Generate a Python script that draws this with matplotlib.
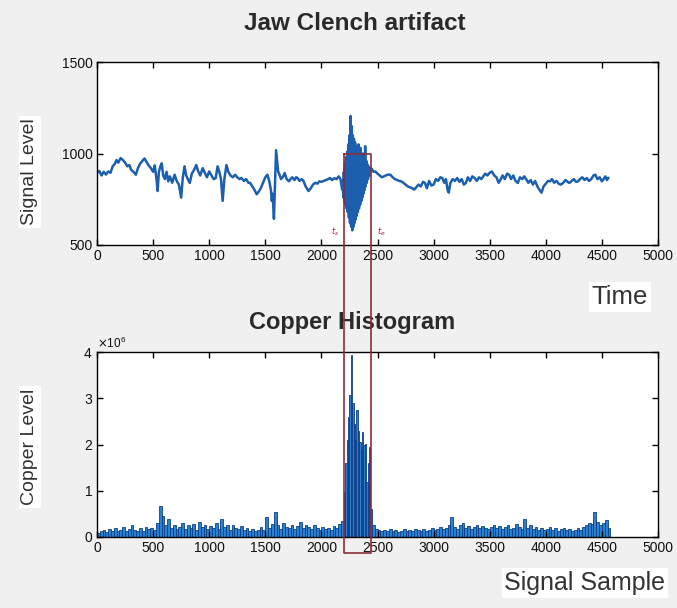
import numpy as np
import matplotlib
matplotlib.use("Agg")
import matplotlib.pyplot as plt
from matplotlib.lines import Line2D
from matplotlib.ticker import ScalarFormatter

# ---------------- data ----------------
sig_t = [0, 20, 40, 60, 80, 100, 120, 140, 160, 173, 190, 210, 230, 250, 270, 288, 305, 325, 346, 365,
         385, 405, 423, 440, 460, 480, 500, 515, 530, 540, 552, 565, 577, 590, 605, 620, 635, 650, 670, 692,
         710, 730, 750, 765, 780, 795, 810, 827, 845, 865, 885, 900, 920, 942, 960, 980, 1000, 1020, 1040, 1058,
         1075, 1090, 1105, 1120, 1135, 1154, 1170, 1190, 1210, 1231, 1250, 1270, 1288, 1310, 1330, 1350, 1365,
         1385, 1405, 1423, 1440, 1461, 1480, 1500, 1519, 1535, 1550, 1558, 1565, 1572, 1577, 1583, 1590, 1596,
         1605, 1615, 1627, 1640, 1655, 1673, 1690, 1711, 1725, 1740, 1760, 1775, 1788, 1805, 1825, 1840, 1860,
         1885, 1905, 1925, 1945, 1965, 1981, 2000, 2020, 2040, 2060, 2077, 2095, 2115, 2135, 2154, 2170, 2185,
         2190, 2195, 2200, 2205, 2210, 2215, 2220, 2225, 2230, 2235, 2240, 2245, 2250, 2255, 2260, 2265, 2270,
         2275, 2280, 2285, 2290, 2295, 2300, 2305, 2310, 2315, 2320, 2325, 2330, 2335, 2340, 2345, 2350, 2355,
         2360, 2365, 2370, 2375, 2380, 2385, 2390, 2395, 2400, 2405, 2410, 2415, 2420, 2430, 2440,
         2450, 2465, 2480, 2500, 2520, 2540, 2557, 2575, 2595, 2615, 2635, 2655, 2675, 2695, 2711, 2730, 2750,
         2770, 2790, 2810, 2827, 2845, 2865, 2885, 2905, 2923, 2940, 2960, 2980, 3000, 3020, 3040, 3060, 3077,
         3095, 3110, 3125, 3135, 3150, 3170, 3190, 3211, 3230, 3250, 3270, 3288, 3305, 3325, 3345, 3365, 3385,
         3405, 3425, 3442, 3460, 3480, 3500, 3519, 3540, 3560, 3580, 3596, 3615, 3635, 3655, 3673, 3690, 3710,
         3730, 3750, 3770, 3790, 3808, 3825, 3845, 3865, 3885, 3905, 3925, 3945, 3962, 3980, 4000, 4020, 4038,
         4055, 4075, 4095, 4115, 4135, 4155, 4175, 4195, 4211, 4230, 4250, 4270, 4288, 4305, 4325, 4345, 4365,
         4385, 4405, 4425, 4442, 4460, 4480, 4500, 4515, 4530, 4545, 4557]
sig_v = [893, 905, 880, 900, 885, 902, 895, 930, 945, 964, 950, 975, 965, 950, 930, 937, 910, 900, 884, 920,
         945, 960, 973, 955, 935, 920, 900, 935, 860, 795, 900, 930, 946, 880, 860, 900, 848, 875, 840, 884,
         850, 830, 759, 870, 930, 880, 860, 839, 890, 910, 937, 905, 880, 920, 895, 870, 902, 880, 860, 866,
         930, 900, 860, 741, 860, 937, 900, 880, 870, 884, 870, 860, 866, 850, 860, 840, 839,
         820, 800, 777, 790, 812, 840, 870, 884, 850, 800, 741, 780, 700, 643, 760, 900, 1018,
         960, 900, 884, 860, 870, 893, 860, 848, 860, 870, 855, 870, 866, 850, 860, 850, 820,
         795, 810, 830, 840, 835, 848, 845, 850, 855, 860, 866, 855, 865, 860, 875, 860, 803,
         850, 760, 900, 740, 950, 720, 980, 700, 1010, 680, 1050, 650, 1100, 620, 1205, 600, 1150,
         580, 1100, 600, 1080, 620, 1060, 640, 1040, 660, 1020, 680, 1050, 700, 1000, 720, 1030, 740,
         990, 760, 1000, 780, 970, 800, 1040, 820, 960, 840, 940, 860, 930, 880, 920,
         915, 900, 902, 890, 880, 870, 875, 880, 885, 884, 870, 860, 855, 850, 848, 840, 830,
         820, 815, 810, 803, 815, 830, 820, 845, 839, 810, 850, 825, 830, 860, 850, 870, 866,
         840, 860, 800, 786, 840, 860, 850, 866, 845, 860, 830, 839, 870, 850, 875, 866, 850,
         870, 860, 875, 890, 880, 895, 902, 880, 870, 840, 857, 880, 860, 890, 884, 860, 880,
         850, 839, 870, 860, 875, 860, 840, 855, 830, 850, 820, 800, 786, 820, 835, 850, 848,
         860, 840, 850, 835, 830, 840, 855, 845, 839, 850, 860, 845, 848, 860, 870, 855, 866,
         850, 860, 880, 884, 860, 870, 848, 860, 875, 855, 866]

# copper histogram (bin start sample, value in counts)
hist_start_a = np.arange(0, 2200, 25)        # 88 bins
hist_start_b = np.arange(2200, 2450, 12.5)   # 20 bins (artifact zone)
hist_start_c = np.arange(2450, 4575, 25)     # 85 bins
hist_vals_m = [
    0.08, 0.12, 0.15, 0.10, 0.18, 0.14, 0.20, 0.12, 0.16, 0.22, 0.13, 0.18, 0.25, 0.15, 0.12, 0.19, 0.14, 0.22, 0.17, 0.20,
    0.15, 0.30, 0.68, 0.45, 0.25, 0.38, 0.20, 0.27, 0.18, 0.22, 0.30, 0.17, 0.25, 0.20, 0.28, 0.15, 0.32, 0.22, 0.26, 0.18,
    0.24, 0.20, 0.30, 0.18, 0.38, 0.22, 0.27, 0.16, 0.25, 0.20, 0.18, 0.23, 0.15, 0.20, 0.14, 0.18, 0.12, 0.16, 0.22, 0.15,
    0.43, 0.20, 0.28, 0.54, 0.25, 0.18, 0.30, 0.22, 0.20, 0.26, 0.18, 0.24, 0.32, 0.20, 0.27, 0.22, 0.18, 0.25, 0.20, 0.15,
    0.22, 0.18, 0.20, 0.16, 0.24, 0.20, 0.28, 0.35,
    0.97, 1.60, 2.09, 2.60, 3.08, 3.93, 2.90, 2.45, 2.10, 2.74, 2.30, 2.05, 1.90, 2.27, 2.00, 2.02, 1.19, 1.60, 1.95, 0.61,
    0.25, 0.18, 0.15, 0.12, 0.16, 0.14, 0.18, 0.12, 0.15, 0.10, 0.14, 0.17, 0.12, 0.16, 0.13, 0.18, 0.15, 0.12, 0.17, 0.14,
    0.16, 0.20, 0.15, 0.18, 0.22, 0.17, 0.20, 0.25, 0.43, 0.22, 0.18, 0.25, 0.30, 0.20, 0.24, 0.18, 0.22, 0.26, 0.19, 0.24,
    0.20, 0.18, 0.22, 0.26, 0.19, 0.23, 0.17, 0.21, 0.25, 0.18, 0.20, 0.28, 0.22, 0.18, 0.40, 0.20, 0.25, 0.18, 0.22, 0.16,
    0.20, 0.15, 0.18, 0.22, 0.16, 0.19, 0.14, 0.17, 0.20, 0.15, 0.18, 0.14, 0.16, 0.19, 0.15, 0.22, 0.25, 0.30, 0.28, 0.54,
    0.32, 0.25, 0.30, 0.36, 0.20]

x_ticks = [0, 500, 1000, 1500, 2000, 2500, 3000, 3500, 4000, 4500, 5000]
top_yticks = [500, 1000, 1500]
bot_yticks = [0, 1e6, 2e6, 3e6, 4e6]
artifact_span = (2200, 2440)

# ---------------- figure ----------------
plt.rcParams['font.family'] = ['Liberation Sans', 'DejaVu Sans']
W, H = 677, 608
fig = plt.figure(figsize=(W / 100, H / 100), dpi=100)
fig.patch.set_facecolor('#f0f0f0')

ax1 = fig.add_axes([97 / W, 1 - 245 / H, (658 - 97) / W, (245 - 62) / H])
ax2 = fig.add_axes([97 / W, 1 - 537 / H, (658 - 97) / W, (537 - 352) / H])

line_col = '#1c5fae'
ax1.plot(sig_t, sig_v, color=line_col, lw=1.8, solid_joinstyle='round')
ax1.set_xlim(0, 5000)
ax1.set_ylim(500, 1500)
ax1.set_yticks(top_yticks)

starts = np.concatenate([hist_start_a, hist_start_b, hist_start_c])
widths = np.concatenate([np.full(len(hist_start_a), 25.0), np.full(len(hist_start_b), 12.5),
                         np.full(len(hist_start_c), 25.0)])
vals = np.array(hist_vals_m) * 1e6
ax2.bar(starts, vals, width=widths, align='edge', color='#2b80cf', edgecolor='#0d3f86', linewidth=0.6)
ax2.set_xlim(0, 5000)
ax2.set_ylim(0, 4e6)
ax2.set_yticks(bot_yticks)
fmt = ScalarFormatter(useMathText=True)
fmt.set_powerlimits((0, 0))
ax2.yaxis.set_major_formatter(fmt)
ax2.yaxis.get_offset_text().set_fontsize(8.5)

for ax in (ax1, ax2):
    ax.set_xticks(x_ticks)
    ax.tick_params(direction='in', length=4, width=1, top=True, right=True, labelsize=10, pad=3,
                   labelcolor='#111111')
    for s in ax.spines.values():
        s.set_linewidth(1.0)
    ax.set_facecolor('white')

# titles and labels
fig.text(355 / W, 1 - 23 / H, 'Jaw Clench artifact', ha='center', va='center', fontsize=17.5, fontweight='bold',
         color='#2a2a2a')
fig.text(352 / W, 1 - 322 / H, 'Copper Histogram', ha='center', va='center', fontsize=17, fontweight='bold',
         color='#2a2a2a')
box = dict(facecolor='white', edgecolor='none', pad=2)
fig.text(30 / W, 1 - 172 / H, 'Signal Level', rotation=90, ha='center', va='center', fontsize=14,
         color='#333333', bbox=box)
fig.text(30 / W, 1 - 447 / H, 'Copper Level', rotation=90, ha='center', va='center', fontsize=14,
         color='#333333', bbox=box)
fig.text(620 / W, 1 - 297 / H, 'Time', ha='center', va='center', fontsize=18.5, color='#333333', bbox=box)
fig.text(585 / W, 1 - 583 / H, 'Signal Sample', ha='center', va='center', fontsize=18, color='#333333', bbox=box)

# artifact marker rectangle spanning both axes
x0, x1 = artifact_span
p_top_l = ax1.transData.transform((x0, 1000))
p_top_r = ax1.transData.transform((x1, 1000))
p_bot_l = ax2.transData.transform((x0, 0))
p_bot_r = ax2.transData.transform((x1, 0))
inv = fig.transFigure.inverted()
ext = 16  # pixels below bottom axis
tl = inv.transform(p_top_l)
tr = inv.transform(p_top_r)
bl = inv.transform((p_bot_l[0], p_bot_l[1] - ext))
br = inv.transform((p_bot_r[0], p_bot_r[1] - ext))
xs = [tl[0], tr[0], br[0], bl[0], tl[0]]
ys = [tl[1], tr[1], br[1], bl[1], tl[1]]
fig.add_artist(Line2D(xs, ys, color='#8c2d3c', lw=1.2, transform=fig.transFigure, zorder=10))

ax1.text(2120, 540, '$t_s$', color='#a0204a', fontsize=6, ha='center', va='bottom')
ax1.text(2530, 540, '$t_e$', color='#a0204a', fontsize=6, ha='center', va='bottom')

fig.savefig('out.png', dpi=100, facecolor=fig.get_facecolor())
